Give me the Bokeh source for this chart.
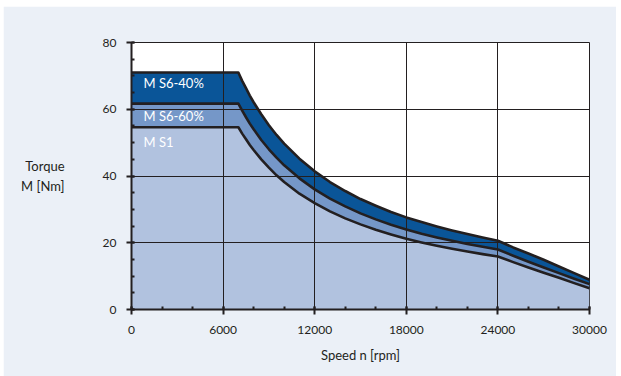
from bokeh.plotting import figure
from bokeh.models import Range1d, SingleIntervalTicker, Label, ColumnDataSource
from bokeh.embed import file_html
from bokeh.resources import INLINE

# ---- data ----
speed = [0, 7000, 7250, 7500, 7750, 8000, 8500, 9000, 9500, 10000, 11000,
         12000, 13000, 14000, 15000, 16000, 17000, 18000, 19000, 20000,
         21000, 22000, 23000, 24000, 25000, 26000, 27000, 28000, 29000, 30000]
m_s6_40 = [71.0, 71.0, 68.5, 66.3, 64.1, 62.1, 58.5, 55.2, 52.3, 49.7, 45.2,
           41.4, 38.2, 35.5, 33.1, 31.1, 29.2, 27.6, 26.2, 24.9,
           23.7, 22.6, 21.6, 20.6, 18.6, 16.8, 14.9, 12.9, 10.9, 8.9]
m_s6_60 = [61.7, 61.7, 59.6, 57.6, 55.7, 54.0, 50.8, 48.0, 45.5, 43.2, 39.3,
           36.0, 33.2, 30.9, 28.8, 27.0, 25.4, 24.0, 22.7, 21.6,
           20.6, 19.6, 18.8, 18.0, 16.1, 14.3, 12.6, 10.9, 9.2, 7.6]
m_s1 = [54.6, 54.6, 52.7, 51.0, 49.3, 47.8, 45.0, 42.5, 40.2, 38.2, 34.7,
        31.9, 29.4, 27.3, 25.5, 23.9, 22.5, 21.2, 20.1, 19.1,
        18.2, 17.4, 16.6, 15.9, 14.2, 12.6, 11.0, 9.5, 7.9, 6.4]
zero = [0.0] * len(speed)

series_names = ["M S6-40%", "M S6-60%", "M S1"]
x_label = "Speed n [rpm]"
y_label = "Torque\nM [Nm]"

FONT = "Lato"
INK = "#231f20"
C40 = "#0a5598"
C60 = "#7597c8"
C1 = "#b1c2df"
BG = "#ebf0f7"

src = ColumnDataSource(dict(x=speed, s40=m_s6_40, s60=m_s6_60, s1=m_s1, z=zero))

p = figure(width=613, height=370, output_backend="svg", toolbar_location=None,
           x_range=Range1d(0, 30000), y_range=Range1d(0, 80),
           min_border_left=128, min_border_right=27, min_border_top=36,
           min_border_bottom=67)
p.margin = (6, 0, 0, 3)
p.border_fill_color = BG
p.background_fill_color = "white"
p.outline_line_color = INK
p.outline_line_width = 1

p.varea(x="x", y1="z", y2="s1", source=src, fill_color=C1)
p.varea(x="x", y1="s1", y2="s60", source=src, fill_color=C60)
p.varea(x="x", y1="s60", y2="s40", source=src, fill_color=C40)
for col in ["s1", "s60", "s40"]:
    p.line(x="x", y=col, source=src, line_color=INK, line_width=2.6,
           line_join="round")

# axes
p.xaxis.ticker = SingleIntervalTicker(interval=6000, num_minor_ticks=3)
p.yaxis.ticker = SingleIntervalTicker(interval=20, num_minor_ticks=4)
for ax in [p.xaxis[0], p.yaxis[0]]:
    ax.axis_line_color = INK
    ax.axis_line_width = 2
    ax.major_tick_line_color = INK
    ax.major_tick_line_width = 2
    ax.minor_tick_line_color = INK
    ax.minor_tick_line_width = 2
    ax.major_tick_out = 5
    ax.major_tick_in = 3
    ax.minor_tick_out = 0
    ax.minor_tick_in = 3
    ax.major_label_text_font = FONT
    ax.major_label_text_font_size = "12px"
    ax.major_label_text_color = INK
    ax.axis_label_text_font = FONT
    ax.axis_label_text_font_size = "13px"
    ax.axis_label_text_font_style = "normal"
    ax.axis_label_text_color = INK
p.xaxis.major_label_standoff = 11
p.yaxis.major_label_standoff = 10

p.xaxis.axis_label = x_label
p.xaxis.axis_label_standoff = 10
p.yaxis.axis_label = y_label
p.yaxis.axis_label_orientation = "horizontal"
p.yaxis.axis_label_standoff = 35
p.yaxis.axis_label_text_align = "left"

p.grid.grid_line_color = INK
p.grid.grid_line_width = 1
p.grid.grid_line_alpha = 1
p.grid.level = "overlay"

# series labels inside the areas
label_pos = [(12, 227), (12, 194), (12, 168)]
for name, (lx, ly) in zip(series_names, label_pos):
    p.add_layout(Label(x=lx, y=ly, x_units="screen", y_units="screen",
                       text=name, text_color="white", text_font=FONT,
                       text_font_size="13px", text_baseline="middle"))

open("out.html", "w").write(file_html(p, INLINE))
